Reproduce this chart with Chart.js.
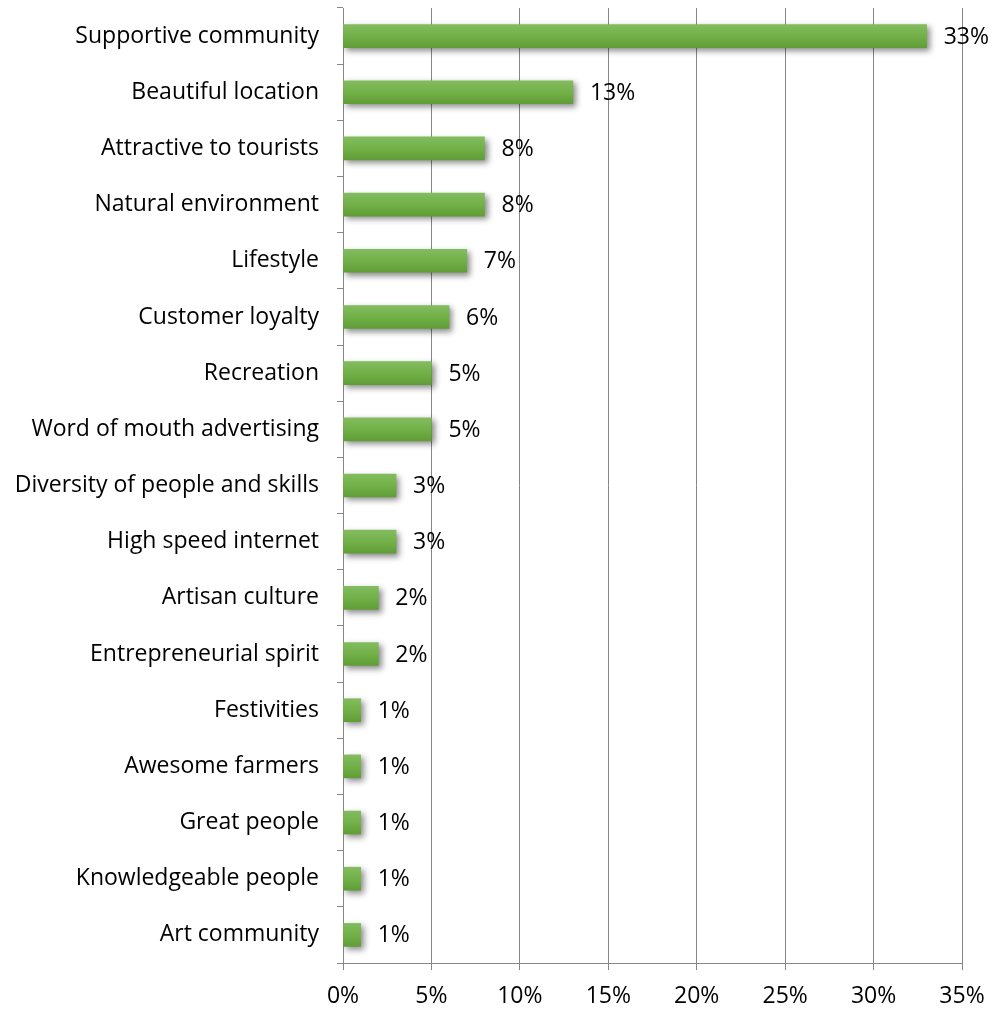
<!DOCTYPE html>
<html>
<head>
<meta charset="utf-8">
<script src="https://cdn.jsdelivr.net/npm/chart.js@4/dist/chart.umd.min.js"></script>
<style>
  html, body { margin: 0; padding: 0; background: #ffffff; }
  #wrap { width: 993px; height: 1010px; position: relative; }
</style>
</head>
<body>
<div id="wrap"><canvas id="c" width="993" height="1010"></canvas></div>
<script>
// Reasons respondents gave, share of responses (%)
const categories = [
  "Supportive community",
  "Beautiful location",
  "Attractive to tourists",
  "Natural environment",
  "Lifestyle",
  "Customer loyalty",
  "Recreation",
  "Word of mouth advertising",
  "Diversity of people and skills",
  "High speed internet",
  "Artisan culture",
  "Entrepreneurial spirit",
  "Festivities",
  "Awesome farmers",
  "Great people",
  "Knowledgeable people",
  "Art community"
];
const shares = [33, 13, 8, 8, 7, 6, 5, 5, 3, 3, 2, 2, 1, 1, 1, 1, 1];
const xTicks = [0, 5, 10, 15, 20, 25, 30, 35];

const FONT = "'Open Sans', Lato, sans-serif";
const FONT_SIZE = 23;

// Vertical green gradient and soft drop shadow on each bar
const barStyle = {
  id: 'barStyle',
  beforeDatasetsDraw(chart) {
    const ctx = chart.ctx;
    chart.getDatasetMeta(0).data.forEach(el => {
      const top = el.y - el.height / 2, bot = el.y + el.height / 2;
      const g = ctx.createLinearGradient(0, top, 0, bot);
      g.addColorStop(0, '#83bc5f');
      g.addColorStop(0.5, '#72b048');
      g.addColorStop(1, '#609d36');
      el.options.backgroundColor = g;
    });
    ctx.save();
    ctx.shadowColor = 'rgba(0,0,0,0.45)';
    ctx.shadowBlur = 6;
    ctx.shadowOffsetX = 3;
    ctx.shadowOffsetY = 3;
  },
  afterDatasetsDraw(chart) {
    chart.ctx.restore();
  }
};

// Percentage label to the right of each bar
const valueLabels = {
  id: 'valueLabels',
  afterDatasetsDraw(chart) {
    const ctx = chart.ctx;
    ctx.save();
    ctx.font = FONT_SIZE + 'px ' + FONT;
    ctx.fillStyle = '#000000';
    ctx.textAlign = 'left';
    ctx.textBaseline = 'middle';
    chart.getDatasetMeta(0).data.forEach((el, i) => {
      ctx.fillText(shares[i] + '%', el.x + 17, el.y + 1);
    });
    ctx.restore();
  }
};

new Chart(document.getElementById('c'), {
  type: 'bar',
  data: {
    labels: categories,
    datasets: [{
      data: shares,
      // scriptable so every bar gets its own options object
      backgroundColor: () => '#72b048',
      borderWidth: 0,
      barThickness: 23
    }]
  },
  options: {
    indexAxis: 'y',
    responsive: false,
    animation: false,
    devicePixelRatio: 1,
    layout: { padding: { top: 8, right: 31, bottom: 0, left: 0 } },
    plugins: {
      legend: { display: false },
      tooltip: { enabled: false }
    },
    scales: {
      x: {
        min: 0,
        max: 35,
        afterBuildTicks(scale) {
          scale.ticks = xTicks.map(v => ({ value: v }));
        },
        afterFit(scale) {
          scale.height = 47;
          scale.paddingLeft = 0;
          scale.paddingRight = 0;
        },
        grid: {
          color: '#868686',
          lineWidth: 1,
          drawTicks: true,
          tickLength: 7,
          tickColor: '#868686'
        },
        border: { color: '#868686', width: 1 },
        ticks: {
          color: '#000000',
          font: { family: FONT, size: FONT_SIZE },
          padding: 13,
          maxRotation: 0,
          callback: v => v + '%'
        }
      },
      y: {
        afterFit(scale) {
          scale.width = 343;
          scale.paddingTop = 0;
          scale.paddingBottom = 0;
        },
        grid: {
          offset: true,
          drawOnChartArea: false,
          drawTicks: true,
          tickLength: 6,
          color: '#868686'
        },
        border: { color: '#868686', width: 1 },
        ticks: {
          color: '#000000',
          font: { family: FONT, size: FONT_SIZE },
          padding: 18,
          autoSkip: false
        }
      }
    }
  },
  plugins: [barStyle, valueLabels]
});
</script>
</body>
</html>
